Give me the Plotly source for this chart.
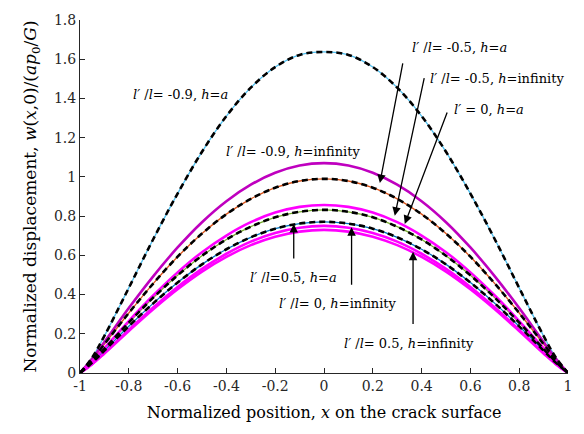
import plotly.graph_objects as go

x_pos = [-1, -0.95, -0.9, -0.8, -0.7, -0.6, -0.5, -0.4, -0.3, -0.2, -0.1, 0,
         0.1, 0.2, 0.3, 0.4, 0.5, 0.6, 0.7, 0.8, 0.9, 0.95, 1]

def sym(half):
    # half: values at x = -1, -0.95, -0.9, ..., -0.1, 0 (curves symmetric)
    return half + half[-2::-1]

# l'/l = -0.9, h = a (cyan, dashed black overlay)
w_m09_a = sym([0, 0.079, 0.189, 0.434, 0.682, 0.915, 1.128, 1.31, 1.455, 1.56, 1.622, 1.637])
# l'/l = -0.9, h = infinity (purple)
w_m09_inf = sym([0, 0.074, 0.158, 0.331, 0.493, 0.640, 0.769, 0.876, 0.960, 1.021, 1.058, 1.07])
# l'/l = -0.5, h = a (orange, dashed)
w_m05_a = sym([0, 0.068, 0.147, 0.306, 0.456, 0.593, 0.711, 0.810, 0.888, 0.945, 0.979, 0.99])
# l'/l = -0.5, h = infinity (magenta)
w_m05_inf = sym([0, 0.059, 0.127, 0.265, 0.395, 0.513, 0.616, 0.701, 0.769, 0.818, 0.847, 0.857])
# l' = 0, h = a (green, dashed)
w_0_a = sym([0, 0.057, 0.123, 0.257, 0.384, 0.498, 0.598, 0.681, 0.746, 0.794, 0.822, 0.832])
# l'/l = 0.5, h = a (blue, dashed)
w_05_a = sym([0, 0.053, 0.114, 0.238, 0.355, 0.461, 0.554, 0.631, 0.692, 0.736, 0.762, 0.771])
# l'/l = 0, h = infinity (magenta)
w_0_inf = sym([0, 0.046, 0.102, 0.220, 0.334, 0.439, 0.531, 0.608, 0.670, 0.714, 0.741, 0.75])
# l'/l = 0.5, h = infinity (magenta)
w_05_inf = sym([0, 0.045, 0.0995, 0.214, 0.325, 0.427, 0.517, 0.592, 0.652, 0.695, 0.721, 0.73])

x_ticks = [-1, -0.8, -0.6, -0.4, -0.2, 0, 0.2, 0.4, 0.6, 0.8, 1]
x_ticktext = ["-1", "-0.8", "-0.6", "-0.4", "-0.2", "0", "0.2", "0.4", "0.6", "0.8", "1"]
y_ticks = [0, 0.2, 0.4, 0.6, 0.8, 1, 1.2, 1.4, 1.6, 1.8]
y_ticktext = ["0", "0.2", "0.4", "0.6", "0.8", "1", "1.2", "1.4", "1.6", "1.8"]

labels = [
    "<i>l′</i> /<i>l</i>= -0.9, <i>h</i>=<i>a</i>",
    "<i>l′</i> /<i>l</i>= -0.9, <i>h</i>=infinity",
    "<i>l′</i> /<i>l</i>= -0.5, <i>h</i>=<i>a</i>",
    "<i>l′</i> /<i>l</i>= -0.5, <i>h</i>=infinity",
    "<i>l′</i> = 0, <i>h</i>=<i>a</i>",
    "<i>l′</i> /<i>l</i>=0.5, <i>h</i>=<i>a</i>",
    "<i>l′</i> /<i>l</i>= 0, <i>h</i>=infinity",
    "<i>l′</i> /<i>l</i>= 0.5, <i>h</i>=infinity",
]
label_x = [-0.587, -0.128, 0.554, 0.711, 0.678, -0.124, 0.059, 0.348]
label_y = [1.42, 1.13, 1.658, 1.503, 1.342, 0.487, 0.353, 0.15]

# arrows: (head x, head y, tail x, tail y)
arrow_head_x = [0.229, 0.290, 0.331, -0.124, 0.113, 0.365]
arrow_head_y = [0.969, 0.802, 0.760, 0.760, 0.743, 0.618]
arrow_tail_x = [0.324, 0.412, 0.507, -0.124, 0.113, 0.365]
arrow_tail_y = [1.586, 1.511, 1.336, 0.576, 0.442, 0.242]

fig = go.Figure()

solid = [
    (w_m09_a, "#4DBEEE", 1.3),
    (w_m05_a, "#D95319", 1.3),
    (w_0_a, "#77AC30", 1.3),
    (w_05_a, "#0072BD", 1.3),
    (w_m09_inf, "#BF00BF", 2.6),
    (w_m05_inf, "#FF00FF", 2.6),
    (w_0_inf, "#FF00FF", 2.6),
    (w_05_inf, "#FF00FF", 2.6),
]
for ys, col, wd in solid:
    fig.add_trace(go.Scatter(x=x_pos, y=ys, mode="lines",
                             line=dict(color=col, width=wd, shape="spline", smoothing=1.0),
                             hoverinfo="skip", showlegend=False))

for ys in [w_m09_a, w_m05_a, w_0_a, w_05_a]:
    fig.add_trace(go.Scatter(x=x_pos, y=ys, mode="lines",
                             line=dict(color="black", width=2.6, dash="6px,4px",
                                       shape="spline", smoothing=1.0),
                             hoverinfo="skip", showlegend=False))

font_family = "DejaVu Serif"
annotations = []
for t, lx, ly in zip(labels, label_x, label_y):
    annotations.append(dict(x=lx, y=ly, xref="x", yref="y", text=t, showarrow=False,
                            xanchor="center", yanchor="middle",
                            font=dict(family=font_family, size=13, color="black")))
for hx, hy, tx, ty in zip(arrow_head_x, arrow_head_y, arrow_tail_x, arrow_tail_y):
    annotations.append(dict(x=hx, y=hy, xref="x", yref="y", ax=tx, ay=ty,
                            axref="x", ayref="y", text="", showarrow=True,
                            arrowhead=2, arrowsize=1.3, arrowwidth=1.3,
                            arrowcolor="black"))

fig.update_layout(
    width=584, height=434,
    margin=dict(l=80, r=13, t=14, b=61),
    paper_bgcolor="white", plot_bgcolor="white",
    font=dict(family=font_family, size=14, color="#262626"),
    showlegend=False,
    annotations=annotations,
    xaxis=dict(range=[-1, 1], tickvals=x_ticks, ticktext=x_ticktext,
               ticks="inside", ticklen=5, tickcolor="#262626",
               showline=True, linecolor="#262626", linewidth=1,
               showgrid=False, zeroline=False,
               tickfont=dict(family=font_family, size=14, color="#262626"),
               title=dict(text="Normalized position, <i>x</i> on the crack surface",
                          font=dict(family=font_family, size=16, color="black"),
                          standoff=14)),
    yaxis=dict(range=[0, 1.8], tickvals=y_ticks, ticktext=y_ticktext,
               ticks="inside", ticklen=5, tickcolor="#262626",
               showline=True, linecolor="#262626", linewidth=1,
               showgrid=False, zeroline=False,
               tickfont=dict(family=font_family, size=14, color="#262626"),
               title=dict(text="Normalized displacement, <i>w</i>(<i>x</i>,0)/(<i>ap</i><sub>0</sub>/<i>G</i>)",
                          font=dict(family=font_family, size=17, color="black"),
                          standoff=12)),
)

fig.write_html("out.html")
